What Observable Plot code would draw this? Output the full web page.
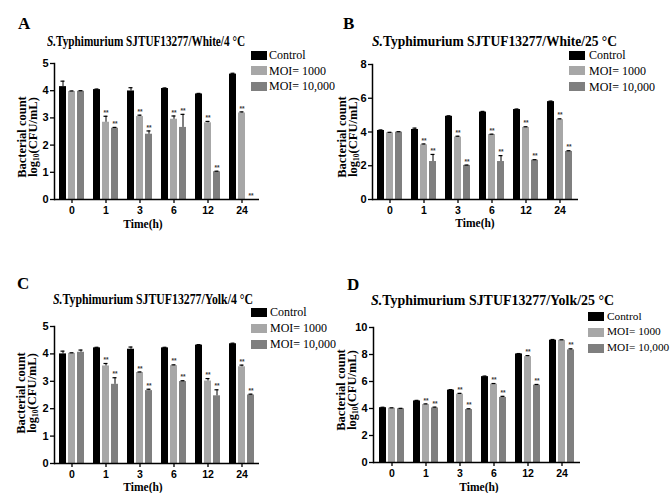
<!DOCTYPE html>
<html>
<head>
<meta charset="utf-8">
<script src="https://cdn.jsdelivr.net/npm/d3@7"></script>
<script src="https://cdn.jsdelivr.net/npm/@observablehq/plot@0.6"></script>
<style>
  body { margin: 0; background: #fff; }
  #root { position: relative; width: 672px; height: 493px; overflow: hidden; background: #fff; }
  .ov { position: absolute; white-space: nowrap; color: #000; line-height: 1; }
  .serif { font-family: "Liberation Serif", "Times New Roman", serif; }
</style>
</head>
<body>
<div id="root"></div>
<script>
// ---------- data ----------
const times = ["0", "1", "3", "6", "12", "24"];
const series = ["Control", "MOI= 1000", "MOI= 10,000"];
const colors = ["#000000", "#a7a7a7", "#7f7f7f"];

// Panel A: White / 4 °C
const aControl    = [4.15, 4.04, 3.99, 4.08, 3.88, 4.61];
const aControlErr = [0.20, 0.02, 0.12, 0.02, 0.02, 0.03];
const aMoi1000    = [3.97, 2.84, 3.05, 2.95, 2.82, 3.18];
const aMoi1000Err = [0.02, 0.22, 0.05, 0.12, 0.05, 0.04];
const aMoi10000   = [3.98, 2.62, 2.40, 2.65, 1.02, 0.00];
const aMoi10000Err= [0.02, 0.03, 0.12, 0.48, 0.02, 0.00];
const aStars1000  = [0, 1, 1, 1, 1, 1];
const aStars10000 = [0, 1, 1, 1, 1, 1];

// Panel B: White / 25 °C
const bControl    = [4.09, 4.15, 4.93, 5.18, 5.33, 5.80];
const bControlErr = [0.03, 0.08, 0.03, 0.04, 0.03, 0.03];
const bMoi1000    = [3.95, 3.24, 3.70, 3.85, 4.27, 4.73];
const bMoi1000Err = [0.03, 0.05, 0.05, 0.02, 0.04, 0.05];
const bMoi10000   = [3.99, 2.25, 2.02, 2.25, 2.33, 2.85];
const bMoi10000Err= [0.03, 0.42, 0.02, 0.35, 0.03, 0.04];
const bStars1000  = [0, 1, 1, 1, 1, 1];
const bStars10000 = [0, 1, 1, 1, 1, 1];

// Panel C: Yolk / 4 °C
const cControl    = [4.00, 4.22, 4.17, 4.22, 4.32, 4.37];
const cControlErr = [0.10, 0.02, 0.08, 0.02, 0.02, 0.02];
const cMoi1000    = [4.02, 3.56, 3.32, 3.57, 3.01, 3.53];
const cMoi1000Err = [0.02, 0.09, 0.02, 0.03, 0.09, 0.06];
const cMoi10000   = [4.06, 2.89, 2.66, 2.99, 2.47, 2.50];
const cMoi10000Err= [0.08, 0.24, 0.05, 0.03, 0.22, 0.03];
const cStars1000  = [0, 1, 1, 1, 1, 1];
const cStars10000 = [0, 1, 1, 1, 1, 1];

// Panel D: Yolk / 25 °C
const dControl    = [4.06, 4.56, 5.36, 6.36, 8.04, 9.06];
const dControlErr = [0.03, 0.04, 0.04, 0.04, 0.03, 0.05];
const dMoi1000    = [4.02, 4.29, 5.06, 5.80, 7.84, 9.05];
const dMoi1000Err = [0.03, 0.05, 0.06, 0.05, 0.08, 0.04];
const dMoi10000   = [3.98, 4.04, 3.92, 4.82, 5.73, 8.34];
const dMoi10000Err= [0.03, 0.06, 0.06, 0.08, 0.05, 0.08];
const dStars1000  = [0, 1, 1, 1, 1, 0];
const dStars10000 = [0, 1, 1, 1, 1, 1];

const yTicksA = [0, 1, 2, 3, 4, 5];
const yTicksB = [0, 2, 4, 6, 8];
const yTicksC = [0, 1, 2, 3, 4, 5];
const yTicksD = [0, 2, 4, 6, 8, 10];

const letters = ["A", "B", "C", "D"];
const titles = [
  "Typhimurium SJTUF13277/White/4 °C",
  "Typhimurium SJTUF13277/White/25 °C",
  "Typhimurium SJTUF13277/Yolk/4 °C",
  "Typhimurium SJTUF13277/Yolk/25 °C"
];
const yLabel1 = "Bacterial count";
const yLabel2 = "log<sub>10</sub>(CFU/mL)";
const xLabel = "Time(h)";

// ---------- layout ----------
const panels = [
  { vals: [aControl, aMoi1000, aMoi10000], errs: [aControlErr, aMoi1000Err, aMoi10000Err], stars: [null, aStars1000, aStars10000], yTicks: yTicksA,
    box: {left: 0, top: 0, width: 336, height: 240}, margin: {l: 54, r: 77, t: 63, b: 41},
    letter: {x: 18, top: 15}, title: {x: 47, top: 35, w: 198}, ylab: {x1: 22, x2: 34, y: 137}, xlab: {x: 143, y: 225},
    legend: {sx: 251, tx: 269, ys: [55, 70.5, 86.3], fs: 12} },
  { vals: [bControl, bMoi1000, bMoi10000], errs: [bControlErr, bMoi1000Err, bMoi10000Err], stars: [null, bStars1000, bStars10000], yTicks: yTicksB,
    box: {left: 336, top: 0, width: 336, height: 240}, margin: {l: 36, r: 94, t: 64, b: 41},
    letter: {x: 343, top: 15}, title: {x: 372, top: 34.5, w: 245}, ylab: {x1: 342, x2: 354, y: 137}, xlab: {x: 475, y: 224},
    legend: {sx: 569, tx: 589, ys: [55, 70.7, 86.7], fs: 12} },
  { vals: [cControl, cMoi1000, cMoi10000], errs: [cControlErr, cMoi1000Err, cMoi10000Err], stars: [null, cStars1000, cStars10000], yTicks: yTicksC,
    box: {left: 0, top: 250, width: 336, height: 243}, margin: {l: 54, r: 77, t: 76, b: 30},
    letter: {x: 17, top: 275}, title: {x: 53, top: 292.5, w: 200}, ylab: {x1: 21, x2: 33, y: 393}, xlab: {x: 143, y: 488},
    legend: {sx: 251, tx: 270, ys: [312.3, 328.3, 344.3], fs: 12} },
  { vals: [dControl, dMoi1000, dMoi10000], errs: [dControlErr, dMoi1000Err, dMoi10000Err], stars: [null, dStars1000, dStars10000], yTicks: yTicksD,
    box: {left: 336, top: 250, width: 336, height: 243}, margin: {l: 37, r: 92, t: 77, b: 31},
    letter: {x: 347, top: 276}, title: {x: 371, top: 293.5, w: 243}, ylab: {x1: 341, x2: 353, y: 390}, xlab: {x: 479, y: 488},
    legend: {sx: 588, tx: 607, ys: [316.7, 332.3, 348.3], fs: 11.3} }
];

const offsets = [-9, 0, 9];
const root = document.getElementById("root");

function makePlot(p) {
  const rows = times.flatMap((t, i) => series.map((s, j) => ({
    time: t, series: s, value: p.vals[j][i], err: p.errs[j][i], star: p.stars[j] ? p.stars[j][i] : 0
  })));
  const marks = [];
  series.forEach((s, j) => {
    const sub = rows.filter(d => d.series === s);
    const dx = offsets[j];
    marks.push(Plot.barY(sub, {x: "time", y: "value", fill: "series", dx}));
    const withErr = sub.filter(d => d.err > 0);
    marks.push(Plot.ruleX(withErr, {x: "time", y1: "value", y2: d => d.value + d.err, dx, stroke: "#000", strokeWidth: 1}));
    marks.push(Plot.tickY(withErr, {x: "time", y: d => d.value + d.err, dx, stroke: "#000", strokeWidth: 1.2, insetLeft: 1.5, insetRight: 1.5}));
    marks.push(Plot.text(sub.filter(d => d.star), {x: "time", y: d => d.value + d.err, text: () => "**", dx, dy: -3.5, fontSize: 6.5, fill: "#333"}));
  });
  marks.push(Plot.frame({anchor: "left", stroke: "#000", strokeWidth: 1.5}));
  marks.push(Plot.ruleY([0], {stroke: "#000", strokeWidth: 1.5}));
  marks.push(Plot.axisY({ticks: p.yTicks, tickFormat: d3.format("d"), tickSize: 4, tickPadding: 2, label: null, strokeWidth: 1.3, fontSize: 11}));
  marks.push(Plot.axisX({tickSize: 4, tickPadding: 3, label: null, strokeWidth: 1.3, fontSize: 10.5}));
  const svg = Plot.plot({
    width: p.box.width, height: p.box.height,
    marginLeft: p.margin.l, marginRight: p.margin.r, marginTop: p.margin.t, marginBottom: p.margin.b,
    x: {domain: times, paddingInner: 0.78, paddingOuter: 0.39},
    y: {domain: [0, p.yTicks[p.yTicks.length - 1]]},
    color: {domain: series, range: colors},
    style: {fontFamily: "'Liberation Sans', Arial, sans-serif", fontWeight: "bold", background: "transparent", overflow: "visible", color: "#000"},
    marks
  });
  svg.style.position = "absolute";
  svg.style.left = p.box.left + "px";
  svg.style.top = p.box.top + "px";
  return svg;
}

function div(html, css) {
  const el = document.createElement("div");
  el.className = "ov serif";
  el.innerHTML = html;
  Object.assign(el.style, css);
  root.appendChild(el);
  return el;
}

panels.forEach(p => root.appendChild(makePlot(p)));

panels.forEach((p, k) => {
  // panel letter
  div(letters[k], {left: p.letter.x + "px", top: p.letter.top + "px", fontSize: "17px", fontWeight: "bold"});
  // title, fitted to its width
  const t = div('<i>S.</i>' + titles[k], {left: p.title.x + "px", top: p.title.top + "px", fontSize: "14px", fontWeight: "bold", transformOrigin: "0 0"});
  const w = t.getBoundingClientRect().width;
  t.style.transform = `scaleX(${p.title.w / w})`;
  // y label: two rotated lines
  const rot = {top: p.ylab.y + "px", fontSize: "12.5px", fontWeight: "bold", transform: "translate(-50%,-50%) rotate(-90deg)"};
  div(yLabel1, Object.assign({left: p.ylab.x1 + "px"}, rot));
  const l2 = div(yLabel2, Object.assign({left: p.ylab.x2 + "px"}, rot));
  const sub = l2.querySelector("sub");
  Object.assign(sub.style, {fontSize: "7.5px", verticalAlign: "-2px", lineHeight: "1"});
  // x label
  div(xLabel, {left: p.xlab.x + "px", top: p.xlab.y + "px", fontSize: "11.5px", fontWeight: "bold", transform: "translate(-50%,-50%)"});
  // legend
  series.forEach((s, j) => {
    const y = p.legend.ys[j];
    const sw = document.createElement("div");
    Object.assign(sw.style, {position: "absolute", left: p.legend.sx + "px", top: (y - 4.5) + "px", width: "16px", height: "9px", background: colors[j]});
    root.appendChild(sw);
    div(s, {left: p.legend.tx + "px", top: y + "px", fontSize: p.legend.fs + "px", transform: "translateY(-50%)"});
  });
});
</script>
</body>
</html>
